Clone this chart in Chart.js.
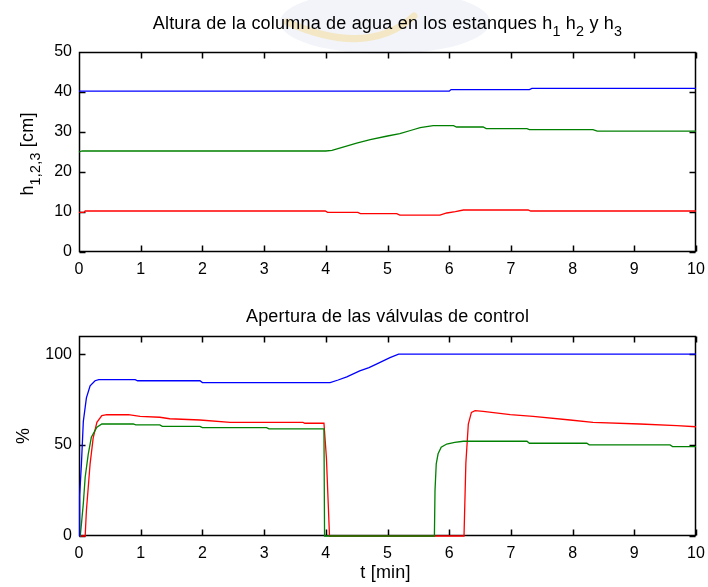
<!DOCTYPE html>
<html>
<head>
<meta charset="utf-8">
<script src="https://cdn.jsdelivr.net/npm/chart.js@4"></script>
<style>
    html, body { margin: 0; padding: 0; background: #fff; }
    #contenedor { position: relative; width: 708px; height: 587px; }
    canvas { position: absolute; left: 0; display: block; }
    #alturaChart { top: 0; }
    #valvulaChart { top: 293px; }
</style>
</head>
<body>
<div id="contenedor">
    <canvas id="alturaChart" width="708" height="293"></canvas>
    <canvas id="valvulaChart" width="708" height="294"></canvas>
</div>
<script>
// tiempo [min] y altura [cm] de cada estanque
var h1T = [0, 6.0, 6.03, 7.3, 7.34, 10];
var h1V = [40.2, 40.2, 40.6, 40.6, 40.9, 40.9];

var h2T = [0, 0.05, 4.0, 4.1, 4.28, 4.5, 4.72, 5.0, 5.2, 5.4, 5.53, 5.74, 6.07, 6.12, 6.55, 6.6, 7.26, 7.3, 8.33, 8.4, 10];
var h2V = [25.0, 25.25, 25.25, 25.4, 26.2, 27.2, 28.1, 29.0, 29.6, 30.5, 31.1, 31.6, 31.6, 31.25, 31.25, 30.85, 30.85, 30.6, 30.6, 30.2, 30.2];

var h3T = [0, 0.08, 0.1, 3.99, 4.03, 4.52, 4.56, 5.15, 5.2, 5.85, 5.96, 6.1, 6.23, 7.28, 7.32, 10];
var h3V = [9.9, 9.9, 10.25, 10.25, 9.9, 9.9, 9.6, 9.6, 9.2, 9.2, 9.75, 10.1, 10.5, 10.5, 10.25, 10.25];

// apertura de las valvulas [%]
var u1T = [0, 0.01, 0.04, 0.07, 0.12, 0.18, 0.26, 0.32, 0.91, 0.95, 1.96, 2.0, 4.07, 4.2, 4.34, 4.55, 4.7, 4.82, 5.04, 5.18, 10];
var u1V = [0, 22, 40, 63, 76, 82.6, 85.4, 86, 86, 85.4, 85.4, 84.4, 84.4, 85.8, 87.5, 90.8, 92.6, 94.5, 98.1, 100, 100];

var u2T = [0, 0.02, 0.04, 0.07, 0.1, 0.15, 0.2, 0.29, 0.37, 0.88, 0.92, 1.31, 1.35, 1.96, 2.0, 3.04, 3.08, 3.97, 3.98, 5.76, 5.77, 5.79, 5.82, 5.87, 5.96, 6.09, 6.23, 7.26, 7.3, 8.23, 8.27, 9.58, 9.62, 10];
var u2V = [0, 0, 6.8, 17.8, 32.3, 45, 54.3, 59.8, 61.6, 61.6, 61.1, 61.1, 60.3, 60.3, 59.6, 59.6, 58.9, 58.9, 0, 0, 25, 39.7, 45.2, 48.8, 50.6, 51.5, 52.1, 52.1, 51, 51, 50.1, 50.1, 49.2, 49.2];

var u3T = [0, 0.1, 0.12, 0.18, 0.23, 0.29, 0.37, 0.45, 0.8, 0.99, 1.31, 1.47, 1.96, 2.45, 3.63, 3.66, 3.97, 4.01, 4.06, 6.24, 6.27, 6.31, 6.36, 6.42, 6.55, 6.99, 7.36, 7.96, 8.33, 9.09, 9.69, 10];
var u3V = [0, 0, 14, 39.7, 54, 62.5, 66.2, 66.7, 66.7, 65.8, 65.3, 64.5, 63.8, 62.5, 62.5, 62, 62, 43, 0, 0, 40, 61.6, 68, 68.9, 68.5, 66.7, 65.8, 63.8, 62.5, 61.6, 60.7, 60.1];

var xTicks = [0, 1, 2, 3, 4, 5, 6, 7, 8, 9, 10];
var hTicks = [0, 10, 20, 30, 40, 50];
var uTicks = [0, 50, 100];

var FUENTE = "'Liberation Sans', Arial, Helvetica, sans-serif";
var AZUL = '#0000ff';
var VERDE = '#008000';
var ROJO = '#ff0000';

function puntos(t, v) {
    var p = [];
    for (let i = 0; i < t.length; i++) {
        p.push({ x: t[i], y: v[i] });
    }
    return p;
}

function serie(t, v, color) {
    return {
        data: puntos(t, v),
        borderColor: color,
        borderWidth: 1.3,
        pointRadius: 0,
        tension: 0,
        fill: false,
        clip: 2
    };
}

// texto con subindices: partes = [[texto, esSub], ...]
function textoRico(ctx, partes, x, y, size) {
    var total = 0;
    var anchos = [];
    ctx.letterSpacing = '0.2px';
    for (let i = 0; i < partes.length; i++) {
        ctx.font = (partes[i][1] ? size * 0.8 : size) + 'px ' + FUENTE;
        var w = ctx.measureText(partes[i][0]).width;
        anchos.push(w);
        total += w;
    }
    var cx = x - total / 2;
    ctx.textAlign = 'left';
    ctx.textBaseline = 'alphabetic';
    for (let i = 0; i < partes.length; i++) {
        ctx.font = (partes[i][1] ? size * 0.8 : size) + 'px ' + FUENTE;
        ctx.fillText(partes[i][0], cx, partes[i][1] ? y + size * 0.38 : y);
        cx += anchos[i];
    }
}

// escudo tenue detras del titulo superior
var escudo = {
    id: 'escudo',
    beforeDraw: function (chart) {
        var ctx = chart.ctx;
        ctx.save();
        ctx.fillStyle = 'rgba(160, 180, 215, 0.14)';
        ctx.beginPath();
        ctx.ellipse(385, 22, 105, 32, 0, 0, Math.PI * 2);
        ctx.fill();
        ctx.strokeStyle = 'rgba(245, 205, 100, 0.35)';
        ctx.lineWidth = 7;
        ctx.lineCap = 'round';
        ctx.beginPath();
        ctx.moveTo(287, 22);
        ctx.quadraticCurveTo(368, 58, 414, 16);
        ctx.stroke();
        ctx.restore();
    }
};

// marco tipo matlab: caja negra con marcas hacia adentro en los 4 lados
// (se dibuja antes de las curvas, que quedan encima)
var marco = {
    id: 'marco',
    beforeDatasetsDraw: function (chart) {
        var ctx = chart.ctx;
        var a = chart.chartArea;
        var sx = chart.scales.x;
        var sy = chart.scales.y;
        var L = Math.round(a.left) + 0.5, R = Math.round(a.right) - 0.5;
        var T = Math.round(a.top) + 0.5, B = Math.round(a.bottom) - 0.5;
        ctx.save();
        ctx.strokeStyle = '#000';
        ctx.lineWidth = 1.5;
        ctx.beginPath();
        ctx.rect(L, T, R - L, B - T);
        sx.ticks.forEach(function (tk) {
            var px = Math.round(sx.getPixelForValue(tk.value)) + 0.5;
            ctx.moveTo(px, B); ctx.lineTo(px, B - 6);
            ctx.moveTo(px, T); ctx.lineTo(px, T + 6);
        });
        sy.ticks.forEach(function (tk) {
            var py = Math.round(sy.getPixelForValue(tk.value)) + 0.5;
            ctx.moveTo(L, py); ctx.lineTo(L + 6, py);
            ctx.moveTo(R, py); ctx.lineTo(R - 6, py);
        });
        ctx.stroke();
        ctx.restore();
    }
};

// titulos y etiquetas de ejes
var rotulos = {
    id: 'rotulos',
    afterDraw: function (chart, args, opts) {
        var ctx = chart.ctx;
        var a = chart.chartArea;
        var cx = (a.left + a.right) / 2;
        var cy = (a.top + a.bottom) / 2;
        ctx.save();
        ctx.fillStyle = '#000';
        textoRico(ctx, opts.titulo, cx, opts.tituloY, 18);
        if (opts.xLabel) {
            textoRico(ctx, opts.xLabel, cx - 2, opts.xLabelY, 18);
        }
        ctx.translate(opts.yLabelX, cy + opts.yLabelDy);
        ctx.rotate(-Math.PI / 2);
        textoRico(ctx, opts.yLabel, 0, 0, 18);
        ctx.restore();
    }
};

function sinRelleno(s) {
    s.paddingLeft = 0;
    s.paddingRight = 0;
    s.paddingTop = 0;
    s.paddingBottom = 0;
}

function opciones(yMin, yMax, yTicks, altoEjeX, padTop, rot) {
    return {
        responsive: false,
        animation: false,
        events: [],
        layout: {
            padding: { left: 0, right: 12, top: padTop, bottom: 0 }
        },
        scales: {
            x: {
                type: 'linear',
                min: 0,
                max: 10,
                afterBuildTicks: function (s) {
                    s.ticks = xTicks.map(function (v) { return { value: v }; });
                },
                afterFit: function (s) { s.height = altoEjeX; sinRelleno(s); },
                grid: { display: false, drawTicks: false },
                border: { display: false },
                ticks: {
                    color: '#000',
                    padding: 8,
                    maxRotation: 0,
                    autoSkip: false,
                    font: { family: FUENTE, size: 16 }
                }
            },
            y: {
                type: 'linear',
                min: yMin,
                max: yMax,
                afterBuildTicks: function (s) {
                    s.ticks = yTicks.map(function (v) { return { value: v }; });
                },
                afterFit: function (s) { s.width = 79; sinRelleno(s); },
                grid: { display: false, drawTicks: false },
                border: { display: false },
                ticks: {
                    color: '#000',
                    padding: 7,
                    autoSkip: false,
                    font: { family: FUENTE, size: 16 }
                }
            }
        },
        plugins: {
            legend: { display: false },
            title: { display: false },
            tooltip: { enabled: false },
            rotulos: rot
        }
    };
}

var alturaChart = new Chart(document.getElementById('alturaChart').getContext('2d'), {
    type: 'line',
    data: {
        datasets: [
            serie(h1T, h1V, AZUL),
            serie(h2T, h2V, VERDE),
            serie(h3T, h3V, ROJO)
        ]
    },
    options: opciones(0, 50, hTicks, 41, 52, {
        titulo: [['Altura de la columna de agua en los estanques h', 0], ['1', 1], [' h', 0], ['2', 1], [' y h', 0], ['3', 1]],
        tituloY: 29,
        yLabel: [['h', 0], ['1,2,3', 1], [' [cm]', 0]],
        yLabelX: 33,
        yLabelDy: 2
    }),
    plugins: [escudo, marco, rotulos]
});

var valvulaChart = new Chart(document.getElementById('valvulaChart').getContext('2d'), {
    type: 'line',
    data: {
        datasets: [
            serie(u1T, u1V, AZUL),
            serie(u2T, u2V, VERDE),
            serie(u3T, u3V, ROJO)
        ]
    },
    options: opciones(0, 110, uTicks, 51, 43, {
        titulo: [['Apertura de las válvulas de control', 0]],
        tituloY: 29,
        xLabel: [['t [min]', 0]],
        xLabelY: 285,
        yLabel: [['%', 0]],
        yLabelX: 29,
        yLabelDy: 0
    }),
    plugins: [marco, rotulos]
});
</script>
</body>
</html>
